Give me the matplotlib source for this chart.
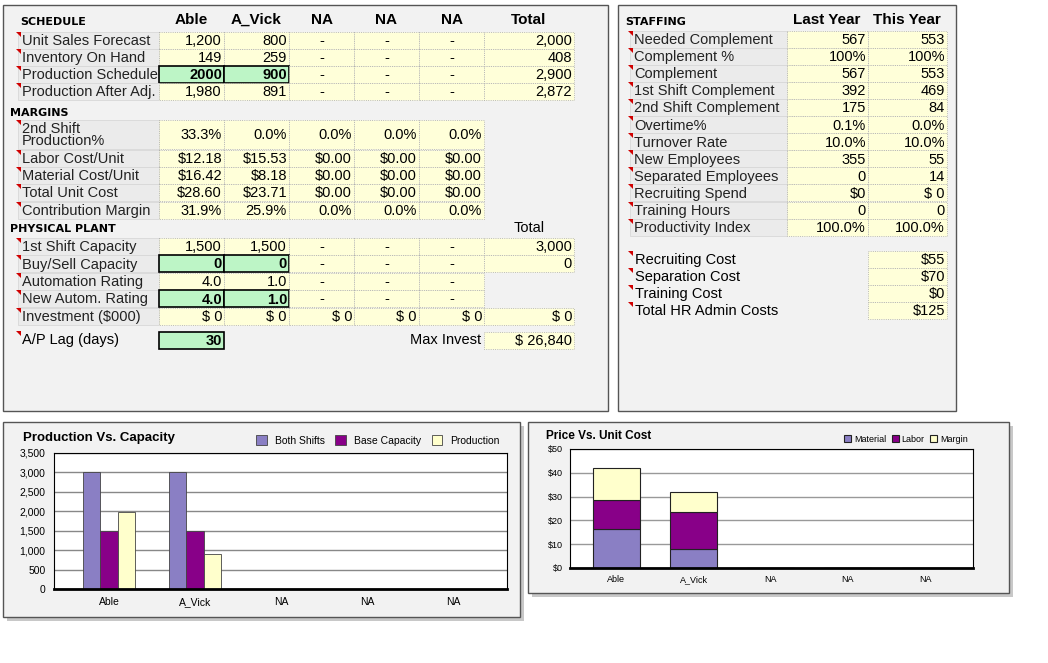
import matplotlib.pyplot as plt
from matplotlib.patches import Rectangle, Polygon
import numpy as np

plt.rcParams['font.family'] = ['Liberation Sans', 'DejaVu Sans']

W, H = 1048, 663
products = ['Able', 'A_Vick', 'NA', 'NA', 'NA']

sched_labels = ['Unit Sales Forecast', 'Inventory On Hand', 'Production Schedule', 'Production After Adj.']
sched_vals = [['1,200', '800', '-', '-', '-', '2,000'],
              ['149', '259', '-', '-', '-', '408'],
              ['2000', '900', '-', '-', '-', '2,900'],
              ['1,980', '891', '-', '-', '-', '2,872']]
margin_labels = ['2nd Shift\nProduction%', 'Labor Cost/Unit', 'Material Cost/Unit', 'Total Unit Cost', 'Contribution Margin']
margin_vals = [['33.3%', '0.0%', '0.0%', '0.0%', '0.0%'],
               ['$12.18', '$15.53', '$0.00', '$0.00', '$0.00'],
               ['$16.42', '$8.18', '$0.00', '$0.00', '$0.00'],
               ['$28.60', '$23.71', '$0.00', '$0.00', '$0.00'],
               ['31.9%', '25.9%', '0.0%', '0.0%', '0.0%']]
plant_labels = ['1st Shift Capacity', 'Buy/Sell Capacity', 'Automation Rating', 'New Autom. Rating', 'Investment ($000)']
plant_vals = [['1,500', '1,500', '-', '-', '-', '3,000'],
              ['0', '0', '-', '-', '-', '0'],
              ['4.0', '1.0', '-', '-', '-', None],
              ['4.0', '1.0', '-', '-', '-', None],
              ['$ 0', '$ 0', '$ 0', '$ 0', '$ 0', '$ 0']]
staff_labels = ['Needed Complement', 'Complement %', 'Complement', '1st Shift Complement',
                '2nd Shift Complement', 'Overtime%', 'Turnover Rate', 'New Employees',
                'Separated Employees', 'Recruiting Spend', 'Training Hours', 'Productivity Index']
staff_last = ['567', '100%', '567', '392', '175', '0.1%', '10.0%', '355', '0', '$0', '0', '100.0%']
staff_this = ['553', '100%', '553', '469', '84', '0.0%', '10.0%', '55', '14', '$ 0', '0', '100.0%']
hr_labels = ['Recruiting Cost', 'Separation Cost', 'Training Cost', 'Total HR Admin Costs']
hr_vals = ['$55', '$70', '$0', '$125']

both_shifts = [3000, 3000, 0, 0, 0]
base_capacity = [1500, 1500, 0, 0, 0]
production = [1980, 891, 0, 0, 0]
material = [16.42, 8.18, 0, 0, 0]
labor = [12.18, 15.53, 0, 0, 0]
margin = [13.4, 8.3, 0, 0, 0]

YEL = '#ffffd9'
GRN = '#bdf5c6'
GRAYC = '#ebebeb'

fig = plt.figure(figsize=(W / 100, H / 100), dpi=100)
fig.patch.set_facecolor('white')
bg = fig.add_axes([0, 0, 1, 1])
bg.set_xlim(0, W)
bg.set_ylim(H, 0)
bg.axis('off')


def box(x0, y0, x1, y1, shadow=True):
    if shadow:
        bg.add_patch(Rectangle((x0 + 4, y0 + 4), x1 - x0, y1 - y0, fc='#c8c8c8', ec='none'))
    bg.add_patch(Rectangle((x0, y0), x1 - x0, y1 - y0, fc='#f2f2f2', ec='#555555', lw=1))


def cell(x0, x1, yc, h, txt, fc=YEL, bold=False, ha='right', thick=False):
    bg.add_patch(Rectangle((x0, yc - h / 2), x1 - x0, h, fc=fc,
                           ec='black' if thick else '#aaaaaa', lw=1.2 if thick else 0.6,
                           ls='-' if thick else ':'))
    if txt is not None:
        if ha == 'right':
            tx = x1 - 2
        elif ha == 'center':
            tx = (x0 + x1) / 2
        else:
            tx = x0 + 3
        bg.text(tx, yc + 1, txt, ha=ha, va='center', fontsize=10.5,
                fontweight='bold' if bold else 'normal')


def marker(x, y):
    bg.add_patch(Polygon([[x - 2, y], [x + 3, y], [x + 3, y + 5]], closed=True, fc='#d00000', ec='none'))


def label(x0, x1, yc, h, txt):
    bg.add_patch(Rectangle((x0, yc - h / 2), x1 - x0, h, fc=GRAYC, ec='#d8d8d8', lw=0.6))
    marker(x0, yc - h / 2)
    bg.text(x0 + 4, yc + 1, txt, ha='left', va='center', fontsize=10.5, color='#222222',
            linespacing=0.9)


def header(x, y, txt):
    bg.text(x, y, txt, ha='left', va='center', fontsize=8, fontweight='bold',
            family='DejaVu Sans')


# ---- left panel
box(3, 5, 608, 411, shadow=False)
cols = [159, 224, 289, 354, 419, 484, 574]
header(20, 22, 'SCHEDULE')
for i, t in enumerate(products + ['Total']):
    bg.text((cols[i] + cols[i + 1]) / 2, 20, t, ha='center', va='center', fontsize=11, fontweight='bold')
green_sched = {2}
for r, (lab, vals) in enumerate(zip(sched_labels, sched_vals)):
    yc = 40 + 17 * r
    label(18, 159, yc, 17, lab)
    for c, v in enumerate(vals):
        g = r in green_sched and c < 2
        cell(cols[c], cols[c + 1], yc, 17, v, fc=GRN if g else YEL, bold=g, thick=g,
             ha='center' if v == '-' else 'right')

header(10, 113, 'MARGINS')
mrows = [134, 158, 175, 192, 210]
for r, (lab, vals) in enumerate(zip(margin_labels, margin_vals)):
    h = 29 if r == 0 else 17
    label(18, 159, mrows[r], h, lab)
    for c, v in enumerate(vals):
        cell(cols[c], cols[c + 1], mrows[r], h, v)

header(10, 229, 'PHYSICAL PLANT')
bg.text((cols[5] + cols[6]) / 2, 228, 'Total', ha='center', va='center', fontsize=10.5)
green_plant = {1, 3}
for r, (lab, vals) in enumerate(zip(plant_labels, plant_vals)):
    yc = 246 + 17.5 * r
    label(18, 159, yc, 17, lab)
    for c, v in enumerate(vals):
        if v is None:
            continue
        g = r in green_plant and c < 2
        cell(cols[c], cols[c + 1], yc, 17, v, fc=GRN if g else YEL, bold=g, thick=g,
             ha='center' if v == '-' else 'right')
marker(18, 331)
bg.text(22, 340, 'A/P Lag (days)', ha='left', va='center', fontsize=10.5)
cell(159, 224, 340, 17, '30', fc=GRN, bold=True, thick=True)
bg.text(481, 340, 'Max Invest', ha='right', va='center', fontsize=10.5)
cell(484, 574, 340, 17, '$ 26,840')

# ---- right panel
box(618, 5, 956, 411, shadow=False)
header(625, 22, 'STAFFING')
rc = [787, 868, 947]
bg.text(827, 20, 'Last Year', ha='center', va='center', fontsize=11, fontweight='bold')
bg.text(907, 20, 'This Year', ha='center', va='center', fontsize=11, fontweight='bold')
for r, lab in enumerate(staff_labels):
    yc = 39 + 17.1 * r
    label(630, 787, yc, 17, lab)
    cell(rc[0], rc[1], yc, 17, staff_last[r])
    cell(rc[1], rc[2], yc, 17, staff_this[r])
for r, lab in enumerate(hr_labels):
    yc = 259 + 17 * r
    marker(630, yc - 8.5)
    bg.text(635, yc + 1, lab, ha='left', va='center', fontsize=10.5)
    cell(868, 947, yc, 17, hr_vals[r])

# ---- bottom left chart
box(3, 422, 520, 617)
ax1 = fig.add_axes([54 / W, 1 - 589 / H, 453 / W, 136 / H])
x = np.arange(len(products))
bw = 0.205
ax1.bar(x - bw, both_shifts, bw, color='#8a7fc4', ec='#444444', lw=0.6, label='Both Shifts')
ax1.bar(x, base_capacity, bw, color='#880088', ec='#444444', lw=0.6, label='Base Capacity')
ax1.bar(x + bw, production, bw, color='#ffffcc', ec='#444444', lw=0.6, label='Production')
ax1.set_ylim(0, 3500)
ax1.set_xlim(-0.64, 4.63)
ax1.set_yticks(range(0, 3501, 500))
ax1.set_yticklabels([f'{v:,}' for v in range(0, 3501, 500)], fontsize=7.5)
ax1.set_xticks(x)
ax1.set_xticklabels(products, fontsize=7.5)
ax1.grid(axis='y', color='#888888', lw=1)
ax1.set_axisbelow(True)
ax1.spines['bottom'].set_linewidth(2)
ax1.tick_params(length=0, pad=6)
ax1.legend(loc='lower right', bbox_to_anchor=(1.0, 1.0), ncol=3, frameon=False, fontsize=7.5,
           handlelength=1.0, handleheight=1.0, columnspacing=1.0, borderaxespad=0.3)
bg.text(23, 438, 'Production Vs. Capacity', ha='left', va='center', fontsize=9.5, fontweight='bold')

# ---- bottom right chart
box(528, 422, 1009, 593)
ax2 = fig.add_axes([570 / W, 1 - 568 / H, 403 / W, 119 / H])
bw2 = 0.61
ax2.bar(x, material, bw2, color='#8a7fc4', ec='#222222', lw=0.8, label='Material')
ax2.bar(x, labor, bw2, bottom=material, color='#880088', ec='#222222', lw=0.8, label='Labor')
ax2.bar(x, margin, bw2, bottom=np.add(material, labor), color='#ffffcc', ec='#222222', lw=0.8,
        label='Margin')
ax2.set_ylim(0, 50)
ax2.set_xlim(-0.6, 4.62)
ax2.set_yticks(range(0, 51, 10))
ax2.set_yticklabels([f'${v}' for v in range(0, 51, 10)], fontsize=6.5)
ax2.set_xticks(x)
ax2.set_xticklabels(products, fontsize=6.5)
ax2.grid(axis='y', color='#999999', lw=1)
ax2.set_axisbelow(True)
ax2.spines['bottom'].set_linewidth(2)
ax2.tick_params(length=0, pad=5)
ax2.legend(loc='lower right', bbox_to_anchor=(1.0, 1.0), ncol=3, frameon=False, fontsize=6.5,
           handlelength=0.8, handleheight=0.8, columnspacing=0.6, handletextpad=0.3,
           borderaxespad=0.2)
bg.text(546, 436, 'Price Vs. Unit Cost', ha='left', va='center', fontsize=8.5, fontweight='bold')

fig.savefig('out.png', dpi=100)
